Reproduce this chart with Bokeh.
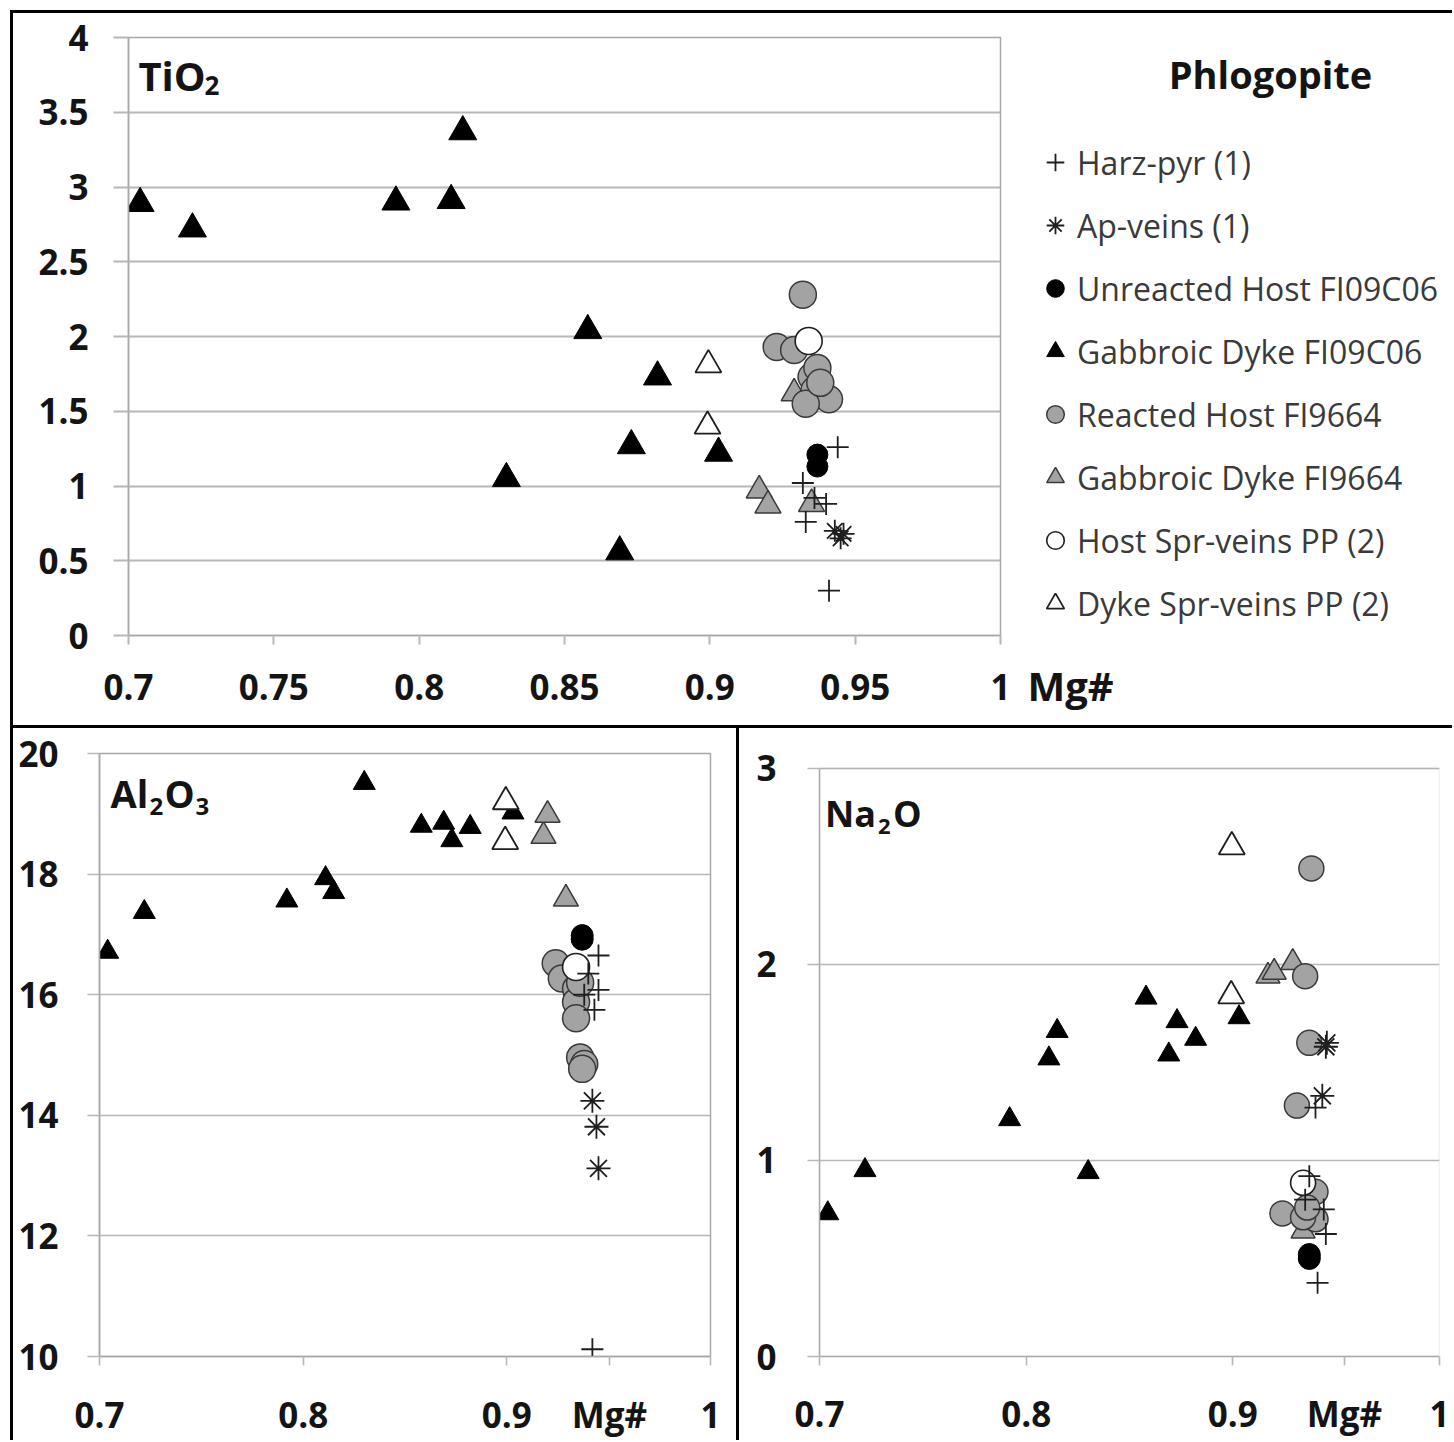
from bokeh.plotting import figure
from bokeh.models import (Label, Legend, LegendItem, FixedTicker, CustomJSTickFormatter,
                          Div, Range1d, BoxAnnotation)
from bokeh.layouts import row, column
from bokeh.embed import file_html
from bokeh.resources import INLINE

FONT = "Open Sans"

# ---------------- data ----------------
# Gabbroic Dyke FI09C06 (black triangles)
gab09_mg = [0.704, 0.722, 0.792, 0.811, 0.815, 0.830, 0.858, 0.869, 0.873, 0.882, 0.903]
gab09_ti = [2.89, 2.72, 2.90, 2.91, 3.37, 1.05, 2.04, 0.56, 1.27, 1.73, 1.22]
gab09_al = [16.71, 17.37, 17.56, 17.93, 17.70, 19.51, 18.80, 18.85, 18.56, 18.78, 19.02]
gab09_na = [0.73, 0.95, 1.21, 1.52, 1.66, 0.94, 1.83, 1.54, 1.71, 1.62, 1.73]

# Dyke Spr-veins PP (2) (open triangles)
dyk_mg = [0.8995, 0.8992]
dyk_ti = [1.81, 1.40]
dyk_al = [19.20, 18.54]
dyk_na = [2.60, 1.84]

# Gabbroic Dyke FI9664 (grey triangles)
gab64_mg_ti = [0.917, 0.920, 0.929, 0.935]
gab64_ti = [0.97, 0.87, 1.62, 0.88]
gab64_mg_al = [0.918, 0.920, 0.929, 0.934]
gab64_al = [18.63, 18.98, 17.59, 16.10]
gab64_mg_na = [0.917, 0.920, 0.929, 0.934]
gab64_na = [1.94, 1.96, 2.01, 0.64]

# Reacted Host FI9664 (grey circles)
rea_mg_ti = [0.932, 0.923, 0.929, 0.935, 0.937, 0.936, 0.941, 0.933, 0.938]
rea_ti = [2.28, 1.93, 1.91, 1.73, 1.79, 1.64, 1.58, 1.55, 1.69]
rea_mg_al = [0.924, 0.927, 0.934, 0.934, 0.934, 0.936, 0.938, 0.937, 0.936]
rea_al = [16.52, 16.27, 16.10, 15.88, 15.61, 14.96, 14.85, 14.77, 16.20]
rea_mg_na = [0.938, 0.935, 0.937, 0.931, 0.940, 0.924, 0.940, 0.934, 0.936]
rea_na = [2.49, 1.94, 1.60, 1.28, 0.84, 0.73, 0.70, 0.71, 0.76]

# Host Spr-veins PP (2) (open circle)
hsp_mg = [0.934]
hsp_ti = [1.97]
hsp_al = [16.46]
hsp_na = [0.886]

# Unreacted Host FI09C06 (black circles)
unr_mg = [0.937, 0.937]
unr_ti = [1.21, 1.13]
unr_al = [16.98, 16.92]
unr_na = [0.52, 0.50]

# Harz-pyr (1) (crosses)
hz_mg_ti = [0.944, 0.932, 0.940, 0.933, 0.941, 0.936]
hz_ti = [1.26, 1.02, 0.88, 0.76, 0.30, 0.92]
hz_mg_al = [0.945, 0.945, 0.943, 0.942, 0.940, 0.938]
hz_al = [16.65, 16.08, 15.75, 10.12, 16.35, 16.00]
hz_mg_na = [0.940, 0.944, 0.945, 0.941, 0.937, 0.935]
hz_na = [1.27, 0.75, 0.625, 0.376, 0.92, 0.80]

# Ap-veins (1) (asterisks)
ap_mg_ti = [0.943, 0.945, 0.946]
ap_ti = [0.70, 0.65, 0.68]
ap_mg_al = [0.942, 0.944, 0.945]
ap_al = [14.24, 13.81, 13.12]
ap_mg_na = [0.9455, 0.9433, 0.945]
ap_na = [1.60, 1.33, 1.58]

legend_labels = ["Harz-pyr (1)", "Ap-veins (1)", "Unreacted Host FI09C06",
                 "Gabbroic Dyke FI09C06", "Reacted Host FI9664", "Gabbroic Dyke FI9664",
                 "Host Spr-veins PP (2)", "Dyke Spr-veins PP (2)"]

mg_ticks_top = [0.7, 0.75, 0.8, 0.85, 0.9, 0.95, 1.0]
mg_ticks_al = [0.7, 0.8, 0.9, 0.9504, 1.0]   # 0.9504 carries the "Mg#" label
mg_ticks_na = [0.7, 0.8, 0.9, 0.954, 1.0]    # 0.954 carries the "Mg#" label
ti_ticks = [0, 0.5, 1, 1.5, 2, 2.5, 3, 3.5, 4]
al_ticks = [10, 12, 14, 16, 18, 20]
na_ticks = [0, 1, 2, 3]

GRID = "#b8b8b8"
GREY = "#a3a3a3"
EDGE = "#3a3a3a"
TXT = "#141414"

fmt = CustomJSTickFormatter(code="""
if (tick > 0.94 && tick < 0.99 && Math.abs(tick - 0.95) > 1e-6) { return "Mg#"; }
return String(Math.round(tick*100)/100);
""")


def make_fig(w, h, xr, yr, xticks, yticks, mb, xstand, ystand, ytick_out, grid_w):
    p = figure(width=w, height=h, x_range=Range1d(*xr), y_range=Range1d(*yr),
               output_backend="svg", toolbar_location=None,
               min_border_left=mb[0], min_border_right=mb[1],
               min_border_top=mb[2], min_border_bottom=mb[3])
    p.background_fill_color = "white"
    p.border_fill_color = "white"
    p.outline_line_color = "#a8a8a8"
    p.outline_line_width = 1.5
    for ax, ticks, stand, tout in ((p.xaxis, xticks, xstand, 9), (p.yaxis, yticks, ystand, ytick_out)):
        ax.ticker = FixedTicker(ticks=ticks, minor_ticks=[])
        ax.formatter = fmt
        ax.major_tick_in = 0
        ax.major_tick_out = tout
        ax.minor_tick_out = 0
        ax.minor_tick_in = 0
        ax.major_tick_line_color = GRID
        ax.major_tick_line_width = grid_w
        ax.axis_line_color = "#a8a8a8"
        ax.axis_line_width = 1.5
        ax.major_label_text_font = FONT
        ax.major_label_text_font_size = "35px"
        ax.major_label_text_font_style = "bold"
        ax.major_label_text_color = TXT
        ax.major_label_standoff = stand
    p.xgrid.visible = False
    p.ygrid.ticker = FixedTicker(ticks=yticks, minor_ticks=[])
    p.ygrid.grid_line_color = GRID
    p.ygrid.grid_line_width = grid_w
    return p


def add_points(p, d, s):
    r = {}
    r["gab64"] = p.scatter(d["gab64"][0], d["gab64"][1], marker="triangle", size=s["gtri"],
                           fill_color=GREY, line_color=EDGE, line_width=1.5)
    r["rea"] = p.scatter(d["rea"][0], d["rea"][1], marker="circle", size=s["circ"],
                         fill_color=GREY, line_color=EDGE, line_width=1.5)
    r["hsp"] = p.scatter(d["hsp"][0], d["hsp"][1], marker="circle", size=s["circ"],
                         fill_color="white", line_color="#1e1e1e", line_width=1.6)
    r["unr"] = p.scatter(d["unr"][0], d["unr"][1], marker="circle", size=s["bcirc"],
                         fill_color="black", line_color="black", line_width=1)
    r["gab09"] = p.scatter(d["gab09"][0], d["gab09"][1], marker="triangle", size=s["btri"],
                           fill_color="black", line_color="black", line_width=1)
    r["dyk"] = p.scatter(d["dyk"][0], d["dyk"][1], marker="triangle", size=s["otri"],
                         fill_color="white", line_color="#1e1e1e", line_width=1.8)
    r["hz"] = p.scatter(d["hz"][0], d["hz"][1], marker="cross", size=s["cross"],
                        line_color="#1e1e1e", line_width=1.8)
    r["ap"] = p.scatter(d["ap"][0], d["ap"][1], marker="asterisk", size=s["ast"],
                        line_color="#1e1e1e", line_width=1.8)
    return r


def formula(p, x, y, parts):
    # parts: (text, font size px, x offset, y offset of the baseline)
    for txt, size, xo, yo in parts:
        p.add_layout(Label(x=x, y=y, text=txt, x_offset=xo, y_offset=yo + round(0.4 * size),
                           text_font=FONT, text_font_size=f"{size}px", text_font_style="bold",
                           text_color=TXT, text_baseline="alphabetic", text_align="left"))


ti_data = {
    "gab64": (gab64_mg_ti, gab64_ti), "rea": (rea_mg_ti, rea_ti), "hsp": (hsp_mg, hsp_ti),
    "unr": (unr_mg, unr_ti), "gab09": (gab09_mg, gab09_ti), "dyk": (dyk_mg, dyk_ti),
    "hz": (hz_mg_ti, hz_ti), "ap": (ap_mg_ti, ap_ti)}

# ---------------- top panel: TiO2 ----------------
p_top = make_fig(1007, 712, (0.7, 1.0), (0, 4), mg_ticks_top, ti_ticks,
                 (115, 20, 24, 90), 29, 25, 15, 2)
add_points(p_top, ti_data, dict(gtri=26, circ=27, bcirc=21, btri=28, otri=26, cross=22, ast=22))
formula(p_top, 0.7034, 3.639, [("TiO", 40, 0, 0), ("2", 26, 66, -4)])

# ---------------- legend panel (right of TiO2) ----------------
# pixel-like coordinate system offset by 10 so that the TiO2 points used for the
# legend renderers stay outside the visible area
LW, LFH = 432, 598
p_leg = figure(width=LW, height=712, x_range=Range1d(10, 10 + LW),
               y_range=Range1d(10, 10 + LFH),
               output_backend="svg", toolbar_location=None, y_axis_type=None,
               min_border_left=0, min_border_right=0, min_border_top=24, min_border_bottom=90)
p_leg.outline_line_color = None
p_leg.grid.visible = False
p_leg.background_fill_color = "white"
p_leg.border_fill_color = "white"
leg_ax = p_leg.xaxis[0]
leg_ax.ticker = FixedTicker(ticks=[10 + 50], minor_ticks=[])
leg_ax.formatter = CustomJSTickFormatter(code='return "Mg#";')
leg_ax.axis_line_color = None
leg_ax.major_tick_line_color = None
leg_ax.major_tick_out = 0
leg_ax.major_tick_in = 0
leg_ax.minor_tick_out = 0
leg_ax.minor_tick_in = 0
leg_ax.major_label_standoff = 22
leg_ax.major_label_text_font = FONT
leg_ax.major_label_text_font_size = "40px"
leg_ax.major_label_text_font_style = "bold"
leg_ax.major_label_text_color = TXT

r_leg = add_points(p_leg, ti_data,
                   dict(gtri=20, circ=20, bcirc=20, btri=20, otri=20, cross=22, ast=20))
p_leg.add_layout(Label(x=10 + 250, y=10 + (635 - 88), y_offset=15, text="Phlogopite",
                       text_font=FONT, text_font_size="38px", text_font_style="bold",
                       text_color=TXT, text_align="center", text_baseline="alphabetic"))
order = ["hz", "ap", "unr", "gab09", "rea", "gab64", "hsp", "dyk"]
legend = Legend(items=[LegendItem(label=lab, renderers=[r_leg[k]])
                       for lab, k in zip(legend_labels, order)],
                location=(13, 7), orientation="vertical",
                label_text_font=FONT, label_text_font_size="32px", label_text_color="#3a3a3a",
                glyph_width=44, glyph_height=50, label_height=50, spacing=13,
                padding=0, margin=0, label_standoff=0,
                border_line_color=None, background_fill_alpha=0)
p_leg.add_layout(legend)

# ---------------- bottom left: Al2O3 ----------------
p_al = make_fig(723, 712, (0.7, 1.0), (10, 20), mg_ticks_al, al_ticks,
                (86, 26, 25, 79), 25, 29, 12, 1.6)
add_points(p_al, {
    "gab64": (gab64_mg_al, gab64_al), "rea": (rea_mg_al, rea_al), "hsp": (hsp_mg, hsp_al),
    "unr": (unr_mg, unr_al), "gab09": (gab09_mg, gab09_al), "dyk": (dyk_mg, dyk_al),
    "hz": (hz_mg_al, hz_al), "ap": (ap_mg_al, ap_al)},
    dict(gtri=25, circ=27, bcirc=22, btri=22, otri=26, cross=22, ast=24))
formula(p_al, 0.7054, 19.096, [("Al", 38, 0, 0), ("2", 24, 39, -8),
                               ("O", 38, 54, 0), ("3", 24, 85, -8)])

# ---------------- bottom right: Na2O ----------------
# frames of plots in one row are aligned by the layout, so this panel shares the
# top border of the Al2O3 panel and its range reaches a little above 3
p_na = make_fig(713, 712, (0.7, 1.0), (0, 3.076), mg_ticks_na, na_ticks,
                (80, 13, 25, 79), 24, 31, 12, 1.6)
p_na.outline_line_color = None
p_na.yaxis.bounds = (0, 3)
p_na.add_layout(BoxAnnotation(left=0.7, right=1.0, bottom=0, top=3, fill_alpha=0,
                              line_color="#a8a8a8", line_width=1.5, level="underlay"))
add_points(p_na, {
    "gab64": (gab64_mg_na, gab64_na), "rea": (rea_mg_na, rea_na), "hsp": (hsp_mg, hsp_na),
    "unr": (unr_mg, unr_na), "gab09": (gab09_mg, gab09_na), "dyk": (dyk_mg, dyk_na),
    "hz": (hz_mg_na, hz_na), "ap": (ap_mg_na, ap_na)},
    dict(gtri=24, circ=25, bcirc=22, btri=22, otri=26, cross=22, ast=24))
formula(p_na, 0.7027, 2.701, [("Na", 36, 0, 0), ("2", 22, 53, -8),
                              ("O", 36, 68, 0)])


# ---------------- frame lines and layout ----------------
def bar(w, h, color="black"):
    return Div(text="", width=w, height=h, margin=0,
               styles={"background-color": color})


right_col = column(bar(1439, 3), row(p_top, p_leg, spacing=0), bar(1439, 3),
                   row(p_al, bar(3, 712), p_na, spacing=0), spacing=0)
main = row(bar(10, 1430, "white"), bar(3, 1430), right_col, spacing=0)
page = column(bar(1452, 10, "white"), main, spacing=0)

open("out.html", "w").write(file_html(page, INLINE))
